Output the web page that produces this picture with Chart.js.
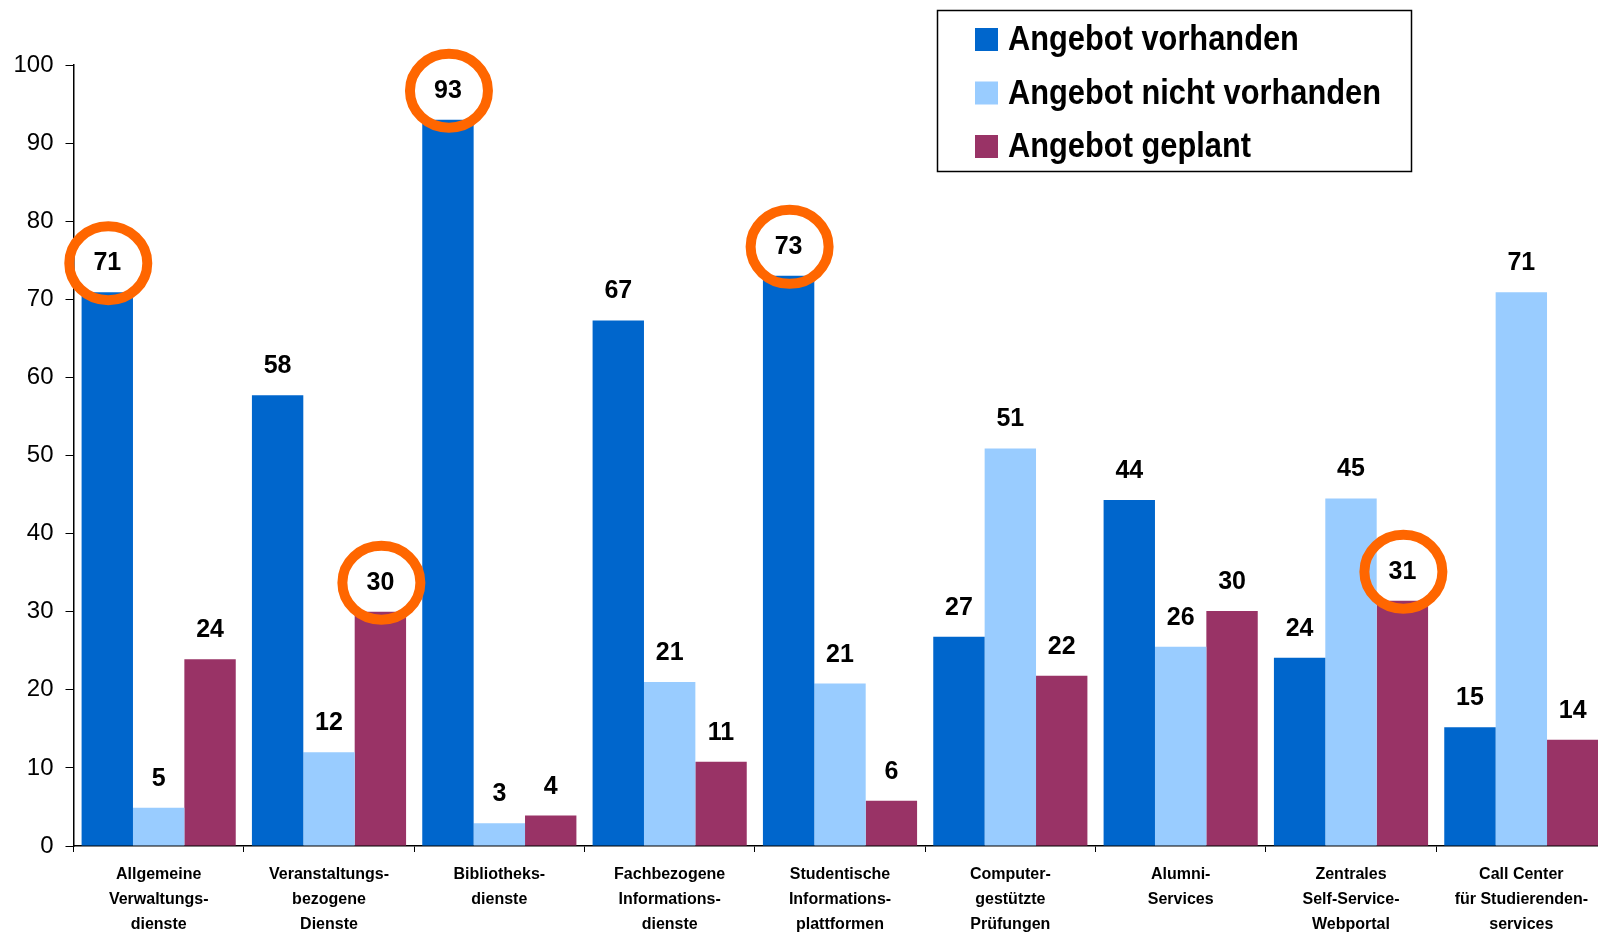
<!DOCTYPE html>
<html>
<head>
<meta charset="utf-8">
<script src="https://cdn.jsdelivr.net/npm/chart.js@4.4.1/dist/chart.umd.min.js"></script>
<style>
  html, body { margin: 0; padding: 0; background: #fff; overflow: hidden; }
  #wrap { width: 1610px; height: 932px; position: relative; }
</style>
</head>
<body>
<div id="wrap"><canvas id="chart"></canvas></div>
<script>
// categories (multi-line x labels)
const categories = [
  ['Allgemeine', 'Verwaltungs-', 'dienste'],
  ['Veranstaltungs-', 'bezogene', 'Dienste'],
  ['Bibliotheks-', 'dienste'],
  ['Fachbezogene', 'Informations-', 'dienste'],
  ['Studentische', 'Informations-', 'plattformen'],
  ['Computer-', 'gestützte', 'Prüfungen'],
  ['Alumni-', 'Services'],
  ['Zentrales', 'Self-Service-', 'Webportal'],
  ['Call Center', 'für Studierenden-', 'services']
];

const seriesNames = ['Angebot vorhanden', 'Angebot nicht vorhanden', 'Angebot geplant'];

// values (labels show rounded numbers)
const vorhanden      = [70.9, 57.7, 93.0, 67.3, 73.0, 26.8, 44.3, 24.1, 15.2];
const nichtVorhanden = [4.9, 12.0, 2.9, 21.0, 20.8, 50.9, 25.5, 44.5, 70.9];
const geplant        = [23.9, 30.0, 3.9, 10.8, 5.8, 21.8, 30.1, 31.4, 13.6];

const yTicks = [0, 10, 20, 30, 40, 50, 60, 70, 80, 90, 100];

// labels circled in orange: [datasetIndex, categoryIndex]
const circled = [[0, 0], [2, 1], [0, 2], [0, 4], [2, 7]];

const colors = ['#0066CC', '#99CCFF', '#993366'];
const FONT = '"Liberation Sans", Arial, sans-serif';

const valueLabels = {
  id: 'valueLabels',
  afterDatasetsDraw(chart) {
    const ctx = chart.ctx;
    ctx.save();
    ctx.font = 'bold 25px ' + FONT;
    ctx.fillStyle = '#000';
    ctx.textAlign = 'center';
    ctx.textBaseline = 'alphabetic';
    chart.data.datasets.forEach((ds, di) => {
      chart.getDatasetMeta(di).data.forEach((bar, i) => {
        ctx.fillText(String(Math.round(ds.data[i])), bar.x, bar.y - 22);
      });
    });
    ctx.restore();
  },
  afterDraw(chart) {
    const ctx = chart.ctx;
    // orange hand-drawn circles
    ctx.save();
    ctx.strokeStyle = '#FF6600';
    ctx.lineWidth = 10;
    circled.forEach(([di, i]) => {
      const bar = chart.getDatasetMeta(di).data[i];
      ctx.beginPath();
      ctx.ellipse(bar.x + 1, bar.y - 29, 39, 37, 0, 0, Math.PI * 2);
      ctx.stroke();
    });
    ctx.restore();

    // legend box
    ctx.save();
    ctx.fillStyle = '#fff';
    ctx.fillRect(937.5, 10.5, 474, 161);
    ctx.strokeStyle = '#000';
    ctx.lineWidth = 1.5;
    ctx.strokeRect(937.5, 10.5, 474, 161);
    ctx.font = 'bold 35px ' + FONT;
    ctx.textBaseline = 'alphabetic';
    seriesNames.forEach((name, k) => {
      const y = 28 + k * 53.5;
      ctx.fillStyle = colors[k];
      ctx.fillRect(975, y, 23, 23);
      ctx.save();
      ctx.translate(1008, y + 22);
      ctx.scale(0.88, 1);
      ctx.fillStyle = '#000';
      ctx.fillText(name, 0, 0);
      ctx.restore();
    });
    ctx.restore();
  }
};

new Chart(document.getElementById('chart'), {
  type: 'bar',
  data: {
    labels: categories,
    datasets: [
      { label: seriesNames[0], data: vorhanden, backgroundColor: colors[0] },
      { label: seriesNames[1], data: nichtVorhanden, backgroundColor: colors[1] },
      { label: seriesNames[2], data: geplant, backgroundColor: colors[2] }
    ]
  },
  options: {
    responsive: true,
    maintainAspectRatio: false,
    animation: false,
    layout: { padding: { top: 65, right: 3.5, left: 0, bottom: 0 } },
    datasets: {
      bar: { categoryPercentage: 0.905, barPercentage: 1.0, borderWidth: 0 }
    },
    plugins: {
      legend: { display: false },
      tooltip: { enabled: false }
    },
    scales: {
      x: {
        grid: {
          offset: true,
          drawOnChartArea: false,
          tickLength: 6,
          color: '#000'
        },
        border: { color: '#000', width: 1.5 },
        ticks: {
          color: '#000',
          padding: 10.5,
          autoSkip: false,
          maxRotation: 0,
          font: { family: FONT, size: 16, weight: 'bold', lineHeight: 1.5625 }
        },
        afterFit(scale) { scale.height = 86; }
      },
      y: {
        min: 0,
        max: 100,
        afterBuildTicks(scale) { scale.ticks = yTicks.map(v => ({ value: v })); },
        grid: {
          drawOnChartArea: false,
          tickLength: 8,
          color: '#000'
        },
        border: { color: '#000', width: 1.5 },
        ticks: {
          color: '#000',
          padding: 12,
          font: { family: FONT, size: 24 }
        },
        afterFit(scale) { scale.width = 73.5; }
      }
    }
  },
  plugins: [valueLabels]
});
</script>
</body>
</html>
